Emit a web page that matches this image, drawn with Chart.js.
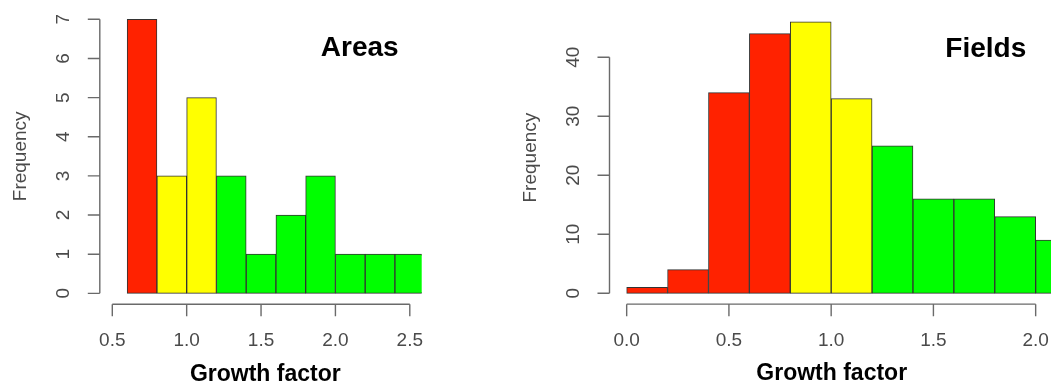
<!DOCTYPE html>
<html>
<head>
<meta charset="utf-8">
<script src="https://cdn.jsdelivr.net/npm/chart.js@4.4.1/dist/chart.umd.min.js"></script>
<style>
  html, body { margin: 0; padding: 0; background: #fff; }
  #wrap { position: relative; width: 1051px; height: 382px; overflow: hidden; }
  #wrap canvas { position: absolute; top: 0; }
</style>
</head>
<body>
<div id="wrap">
  <canvas id="areasChart" width="520" height="382" style="left:0"></canvas>
  <canvas id="fieldsChart" width="531" height="382" style="left:520px"></canvas>
</div>
<script>
/* Two R-style histograms of growth factor (Areas · Fields).
 * Bins coloured red < 0.8 ≤ yellow < 1.2 ≤ green.
 */

// Areas
const areasEdges  = [0.6, 0.8, 1.0, 1.2, 1.4, 1.6, 1.8, 2.0, 2.2, 2.4, 2.6];
const areasCounts = [7, 3, 5, 3, 1, 2, 3, 1, 1, 1];
const areasXTicks = [0.5, 1.0, 1.5, 2.0, 2.5];
const areasYTicks = [0, 1, 2, 3, 4, 5, 6, 7];

// Fields
const fieldsEdges  = [0.0, 0.2, 0.4, 0.6, 0.8, 1.0, 1.2, 1.4, 1.6, 1.8, 2.0, 2.2];
const fieldsCounts = [1, 4, 34, 44, 46, 33, 25, 16, 16, 13, 9];
const fieldsXTicks = [0.0, 0.5, 1.0, 1.5, 2.0];
const fieldsYTicks = [0, 10, 20, 30, 40];

const ZONE_LIMITS = [0.8, 1.2];
const ZONE_COLORS = ["#ff2200", "#ffff00", "#00ff00"];

const FONT = '"Liberation Sans", Arial, Helvetica, sans-serif';
const AXIS_COLOR = "#6a6a6a";
const LABEL_COLOR = "#4a4a4a";

function zoneColor(lo){
  let i = 0;
  while (i < ZONE_LIMITS.length && lo + 1e-9 >= ZONE_LIMITS[i]) i++;
  return ZONE_COLORS[i];
}
function binPoints(edges, counts){
  return counts.map((c, i) => ({ x: (edges[i] + edges[i+1]) / 2, y: c }));
}

// draws detached base-R style axes, axis titles and panel title
const rAxes = {
  id: "rAxes",
  afterDraw(chart, _args, o){
    const { ctx, chartArea: ca, scales: { x, y } } = chart;
    ctx.save();
    ctx.strokeStyle = AXIS_COLOR;
    ctx.lineWidth = 1.4;
    ctx.fillStyle = LABEL_COLOR;
    ctx.font = "19px " + FONT;

    // x axis
    const xt = x.ticks.map(t => t.value);
    const xb = ca.bottom;
    ctx.beginPath();
    ctx.moveTo(x.getPixelForValue(xt[0]), xb);
    ctx.lineTo(x.getPixelForValue(xt[xt.length-1]), xb);
    xt.forEach(v => { const p = x.getPixelForValue(v); ctx.moveTo(p, xb); ctx.lineTo(p, xb + 12); });
    ctx.stroke();
    ctx.textAlign = "center";
    ctx.textBaseline = "middle";
    xt.forEach(v => ctx.fillText(v.toFixed(1), x.getPixelForValue(v), xb + 36.5));

    // y axis
    const yt = y.ticks.map(t => t.value);
    const yl = ca.left;
    ctx.beginPath();
    ctx.moveTo(yl, y.getPixelForValue(yt[0]));
    ctx.lineTo(yl, y.getPixelForValue(yt[yt.length-1]));
    yt.forEach(v => { const p = y.getPixelForValue(v); ctx.moveTo(yl, p); ctx.lineTo(yl - 12, p); });
    ctx.stroke();
    yt.forEach(v => {
      ctx.save();
      ctx.translate(yl - 36, y.getPixelForValue(v));
      ctx.rotate(-Math.PI / 2);
      ctx.fillText(String(v), 0, 0);
      ctx.restore();
    });

    // y title
    ctx.save();
    ctx.translate(yl - 74, (ca.top + ca.bottom) / 2);
    ctx.rotate(-Math.PI / 2);
    ctx.textBaseline = "alphabetic";
    ctx.fillText(o.yTitle, 0, 0);
    ctx.restore();

    // x title
    ctx.fillStyle = "#000";
    ctx.textBaseline = "alphabetic";
    ctx.font = "bold 23px " + FONT;
    ctx.fillText(o.xTitle, ca.left + o.xTitleDx, xb + 76.3);

    // panel title
    ctx.font = "bold 28px " + FONT;
    ctx.fillText(o.title, o.titleX, o.titleY);
    ctx.restore();
  }
};

function makeHist(canvasId, c){
  const pts = binPoints(c.edges, c.counts);
  return new Chart(document.getElementById(canvasId), {
    type: "bar",
    data: {
      datasets: [{
        data: pts,
        backgroundColor: c.edges.slice(0, -1).map(zoneColor),
        borderColor: "#333",
        borderWidth: 1,
        borderSkipped: false,
        barPercentage: 1,
        categoryPercentage: 1,
        clip: 0
      }]
    },
    options: {
      responsive: false,
      animation: false,
      devicePixelRatio: 1,
      layout: { padding: c.padding },
      plugins: {
        legend: { display: false },
        tooltip: { enabled: false },
        rAxes: { title: c.title, titleX: c.titleX, titleY: c.titleY,
                 xTitle: "Growth factor", xTitleDx: c.xTitleDx, yTitle: "Frequency" }
      },
      scales: {
        x: { type: "linear", display: false, offset: false, bounds: "data",
             min: c.xRange[0], max: c.xRange[1],
             ticks: { display: false, autoSkip: false },
             afterBuildTicks: s => { s.ticks = c.xTicks.map(v => ({ value: v })); } },
        y: { type: "linear", display: false, bounds: "data", min: c.yRange[0], max: c.yRange[1],
             ticks: { display: false, autoSkip: false },
             afterBuildTicks: s => { s.ticks = c.yTicks.map(v => ({ value: v })); } }
      }
    },
    plugins: [rAxes]
  });
}

makeHist("areasChart", {
  edges: areasEdges, counts: areasCounts, xTicks: areasXTicks, yTicks: areasYTicks,
  xRange: [0.416, 2.58], yRange: [-0.28, 7.28],
  padding: { left: 99.8, right: 98.3, top: 8.34, bottom: 77.7 },
  title: "Areas", titleX: 359.7, titleY: 56, xTitleDx: 165.5
});

makeHist("fieldsChart", {
  edges: fieldsEdges, counts: fieldsCounts, xTicks: fieldsXTicks, yTicks: fieldsYTicks,
  xRange: [-0.084, 2.075], yRange: [-1.84, 47.84],
  padding: { left: 89.5, right: 0, top: 11.04, bottom: 77.84 },
  title: "Fields", titleX: 465.8, titleY: 56.5, xTitleDx: 222.2
});
</script>
</body>
</html>
